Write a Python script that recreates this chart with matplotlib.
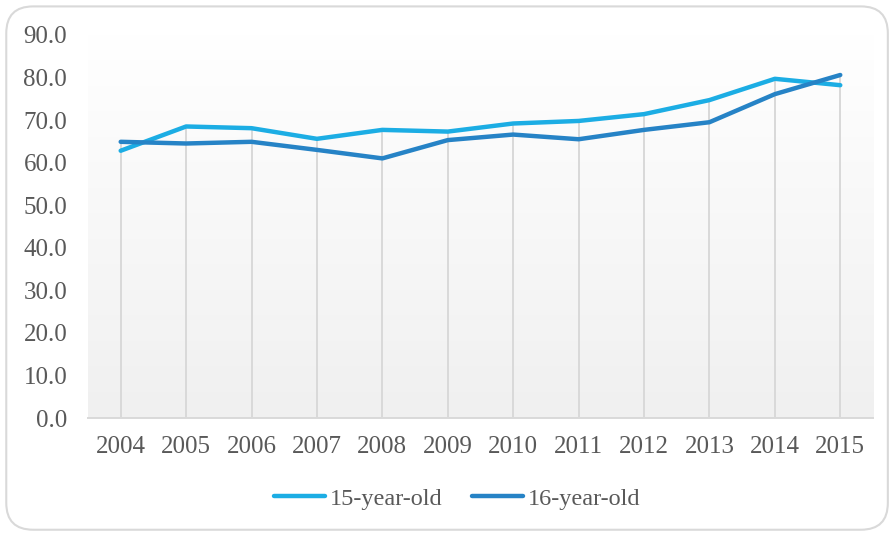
import numpy as np
import matplotlib.pyplot as plt
from matplotlib.patches import FancyBboxPatch

# Share of young people, by age
years = ["2004", "2005", "2006", "2007", "2008", "2009",
         "2010", "2011", "2012", "2013", "2014", "2015"]
age_15 = [62.8, 68.5, 68.1, 65.6, 67.7, 67.3, 69.2, 69.8, 71.4, 74.7, 79.7, 78.2]
age_16 = [64.9, 64.5, 64.9, 63.0, 61.0, 65.3, 66.6, 65.5, 67.7, 69.5, 76.1, 80.6]

plt.rcParams['font.family'] = ['Liberation Serif', 'DejaVu Serif']
txt_color = "#595959"

fig = plt.figure(figsize=(8.95, 5.34), dpi=100)
ax = fig.add_axes([0.0983, 0.2172, 0.8771, 0.7173])

# rounded frame round the whole chart
frame = FancyBboxPatch((0.007, 0.008), 0.985, 0.98,
                       boxstyle="round,pad=0,rounding_size=0.03",
                       transform=fig.transFigure, facecolor="none",
                       edgecolor="#d9d9d9", linewidth=1.5, mutation_aspect=895/534)
fig.patches.append(frame)

x = np.arange(len(years))

# soft vertical gradient in the plot area
grad = np.linspace(1.0, 0.0, 256).reshape(-1, 1)
top_c = np.array([1.0, 1.0, 1.0])
bot_c = np.array([0xf0, 0xf0, 0xf0]) / 255
img = grad[..., None] * top_c + (1 - grad[..., None]) * bot_c
ax.imshow(img, extent=[0, 1, 0, 1], transform=ax.transAxes, aspect="auto", zorder=0)

# drop lines from the higher series down to the axis
tops = np.maximum(age_15, age_16)
ax.vlines(x, 0, tops, color="#d9d9d9", linewidth=1.4, zorder=1)

ax.plot(x, age_15, color="#1cade4", linewidth=3.2, solid_capstyle="round",
        solid_joinstyle="round", label="15-year-old", zorder=3)
ax.plot(x, age_16, color="#2683c6", linewidth=3.2, solid_capstyle="round",
        solid_joinstyle="round", label="16-year-old", zorder=3)

ax.set_xlim(-0.5, len(years) - 0.5)
ax.set_ylim(0, 90)
ax.set_yticks(np.arange(0, 91, 10))
ax.set_yticklabels([f"{v:.1f}" for v in np.arange(0, 91, 10)])
ax.set_xticks(x)
ax.set_xticklabels(years)
ax.tick_params(length=0, labelsize=18, colors=txt_color)
ax.tick_params(axis="y", pad=15)
ax.tick_params(axis="x", pad=13)

for side in ["top", "right", "left"]:
    ax.spines[side].set_visible(False)
ax.spines["bottom"].set_color("#d9d9d9")
ax.spines["bottom"].set_linewidth(1.4)

leg = fig.legend(loc="center", bbox_to_anchor=(0.511, 0.066), ncol=2, frameon=False,
                 fontsize=17.5, handlelength=2.1, handletextpad=0.2, columnspacing=1.2)
for t in leg.get_texts():
    t.set_color(txt_color)
for h in leg.get_lines():
    h.set_linewidth(3.2)

fig.savefig("out.png", dpi=100)
